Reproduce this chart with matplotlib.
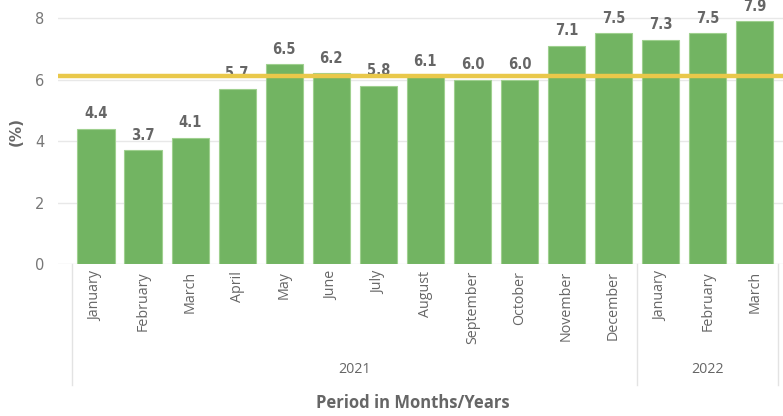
import matplotlib.pyplot as plt
import numpy as np

# data
months = ["January", "February", "March", "April", "May", "June", "July",
          "August", "September", "October", "November", "December",
          "January", "February", "March"]
years = ["2021", "2022"]
year_counts = [12, 3]
values = [4.4, 3.7, 4.1, 5.7, 6.5, 6.2, 5.8, 6.1, 6.0, 6.0, 7.1, 7.5, 7.3, 7.5, 7.9]
avg_line = 6.12

fig = plt.figure(figsize=(7.83, 4.16), dpi=100)
ax = fig.add_axes([58 / 783, (416 - 264) / 416, (783 - 58) / 783, 264 / 416])

x = np.arange(len(values))
ax.bar(x, values, width=0.79, color="#72B462", edgecolor="#9fd08f", linewidth=0.8, zorder=2)

for xi, v in zip(x, values):
    ax.text(xi, v + 0.25, f"{v:.1f}", ha="center", va="bottom", fontsize=10.5,
            fontweight="bold", color="#666666", family="DejaVu Sans",
            fontstretch="condensed", clip_on=False)

ax.axhline(avg_line, color="#E9C84A", linewidth=3.2, zorder=3)

ax.set_xlim(-0.807, 14.6)
ax.set_ylim(0, 8.59)
ax.set_yticks([0, 2, 4, 6, 8])
ax.grid(axis="y", color="#e8e8e8", linewidth=1, zorder=0)
for s in ax.spines.values():
    s.set_visible(False)
ax.tick_params(axis="y", length=0, labelsize=10.5, labelcolor="#777777", pad=10)
ax.tick_params(axis="x", length=0, pad=5)
ax.set_xticks(x)
ax.set_xticklabels(months, rotation=90, fontsize=10.3, color="#666666", family="Open Sans", va="top")

ax.set_ylabel("(%)", fontsize=11, fontweight="bold", color="#666666", labelpad=8)

# year hierarchy
tr = ax.get_xaxis_transform()
bounds = [-0.5]
for c in year_counts:
    bounds.append(bounds[-1] + c)
for b in bounds:
    ax.plot([b, b], [0, -0.46], transform=tr, color="#e3e3e3", linewidth=1, clip_on=False)
start = -0.5
for yr, c in zip(years, year_counts):
    ax.text(start + c / 2, -0.40, yr, transform=tr, ha="center", va="center",
            fontsize=10.3, color="#666666", family="Open Sans")
    start += c

fig.text(413 / 783, 1 - 403 / 416, "Period in Months/Years", ha="center", va="center",
         fontsize=12, fontweight="bold", color="#666666", family="Open Sans")

fig.savefig("out.png", dpi=100)
